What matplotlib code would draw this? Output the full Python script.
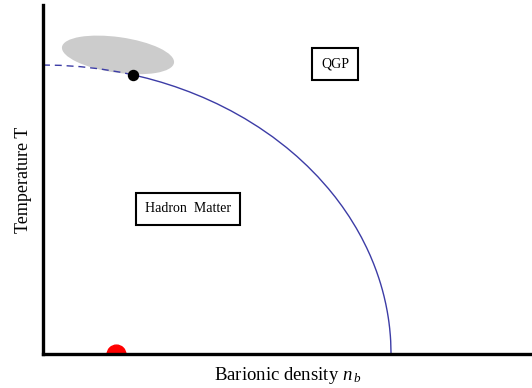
import matplotlib
matplotlib.use("Agg")
import matplotlib.pyplot as plt
from matplotlib.patches import Ellipse

plt.rcParams["font.family"] = ["Liberation Serif", "DejaVu Serif"]
plt.rcParams["mathtext.fontset"] = "custom"
plt.rcParams["mathtext.rm"] = "Liberation Serif"
plt.rcParams["mathtext.it"] = "Liberation Serif:italic"

# Phase boundary T(n_b): crossover part (dashed) up to the critical point,
# first-order line (solid) from the critical point down to T = 0.
crossover_nb = [0.0, 0.0489, 0.1063, 0.1638, 0.2213, 0.2586]
crossover_T = [0.828, 0.8271, 0.8234, 0.8169, 0.8076, 0.7999]

first_order_nb = [0.2586, 0.30, 0.34, 0.38, 0.42, 0.46, 0.50, 0.54, 0.58,
                  0.62, 0.66, 0.70, 0.73, 0.76, 0.79, 0.82, 0.84, 0.86,
                  0.88, 0.90, 0.915, 0.93, 0.94, 0.95, 0.958, 0.965, 0.97,
                  0.975, 0.98, 0.985, 0.989, 0.992, 0.994, 0.996, 0.998,
                  0.999, 1.0]
first_order_T = [0.7999, 0.7899, 0.7787, 0.7659, 0.7514, 0.7352, 0.7171,
                 0.6969, 0.6745, 0.6496, 0.6221, 0.5913, 0.5659, 0.5381,
                 0.5077, 0.4739, 0.4493, 0.4225, 0.3933, 0.3609, 0.3341,
                 0.3043, 0.2825, 0.2585, 0.2374, 0.2171, 0.2013, 0.1840,
                 0.1648, 0.1429, 0.1225, 0.1045, 0.0906, 0.0740, 0.0523,
                 0.0370, 0.0]

critical_point = (0.2586, 0.7999)
nuclear_matter = (0.2098, 0.0)

# Region probed by heavy-ion collisions near the crossover
collision_region = dict(center=(0.2155, 0.857), width=0.325, height=0.102, angle=-8)

labels = {"QGP": (0.839, 0.831), "Hadron  Matter": (0.4167, 0.4155)}

line_color = "#3c3ca6"

fig = plt.figure(figsize=(5.32, 3.88), dpi=100)
ax = fig.add_axes([43 / 532, 34 / 388, 489 / 532, 349 / 388])
ax.set_xlim(0, 1.405)
ax.set_ylim(0, 1.0)

ax.add_patch(Ellipse(collision_region["center"], collision_region["width"],
                     collision_region["height"], angle=collision_region["angle"],
                     facecolor="#cccccc", edgecolor="none", zorder=1))

ax.plot(crossover_nb, crossover_T, color=line_color, lw=1.0,
        linestyle=(0, (5, 3.5)), zorder=2)
ax.plot(first_order_nb, first_order_T, color=line_color, lw=1.0, zorder=2)

ax.plot(*critical_point, "o", color="black", markersize=7.2, zorder=3)
ax.plot(*nuclear_matter, "o", color="#ff0000", markersize=13.5, zorder=1.5)

for text, (x, y) in labels.items():
    ax.text(x, y, text, ha="center", va="center", fontsize=10,
            bbox=dict(boxstyle="square,pad=0.68", facecolor="white",
                      edgecolor="black", linewidth=1.5))

for side in ("top", "right"):
    ax.spines[side].set_visible(False)
for side in ("left", "bottom"):
    ax.spines[side].set_linewidth(2.4)
    ax.spines[side].set_zorder(4)

ax.set_xticks([])
ax.set_yticks([])
ax.set_xlabel(r"Barionic density $n_{\,b}$", fontsize=13.5, labelpad=8)
ax.set_ylabel("Temperature T", fontsize=13, labelpad=8)

fig.savefig("out.png", dpi=100)
